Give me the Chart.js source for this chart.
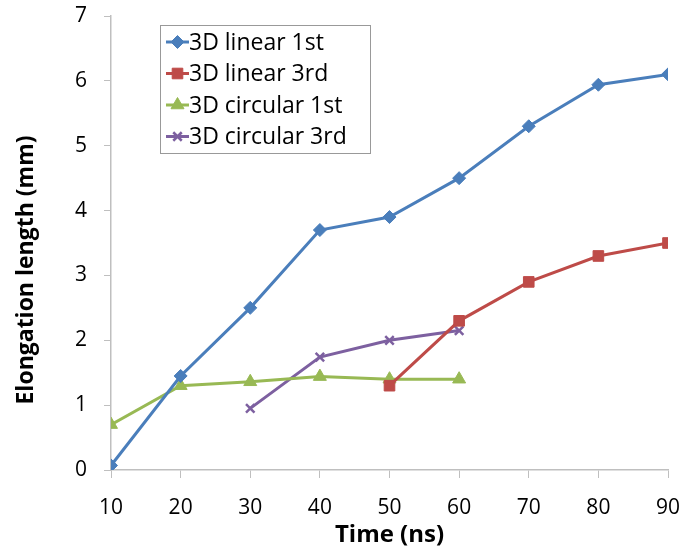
<!DOCTYPE html>
<html>
<head>
<meta charset="utf-8">
<script src="https://cdn.jsdelivr.net/npm/chart.js@4"></script>
<style>
  html, body { margin: 0; padding: 0; background: #fff; }
  #wrap { width: 684px; height: 550px; position: relative; }
</style>
</head>
<body>
<div id="wrap"><canvas id="chart" width="684" height="550"></canvas></div>
<script>
// data
const times = [10, 20, 30, 40, 50, 60, 70, 80, 90];
const linear1st = [0.07, 1.45, 2.5, 3.7, 3.9, 4.5, 5.3, 5.94, 6.1];
const linear3rd = [null, null, null, null, 1.3, 2.3, 2.9, 3.3, 3.5];
const circular1st = [0.7, 1.3, 1.36, 1.44, 1.4, 1.4, null, null, null];
const circular3rd = [null, null, 0.95, 1.74, 2.0, 2.15, null, null, null];
const seriesNames = ["3D linear 1st", "3D linear 3rd", "3D circular 1st", "3D circular 3rd"];
const yTicks = [0, 1, 2, 3, 4, 5, 6, 7];
const yTitle = "Elongation length (mm)";

const FONT = "'Open Sans', sans-serif";
const AXIS = "#bfbfbf";

function pts(vals) {
  return times.map((t, i) => ({ x: t, y: vals[i] })).filter(p => p.y !== null);
}

function mkSet(label, vals, color, style, radius) {
  return {
    label: label,
    data: pts(vals),
    borderColor: color,
    backgroundColor: color,
    borderWidth: 3,
    pointStyle: style,
    pointRadius: radius,
    pointBorderWidth: style === "crossRot" ? 2.5 : 1,
    pointBorderColor: color,
    pointBackgroundColor: color,
    tension: 0
  };
}

// legend drawn inside the plot area with a box around it, plus the y title
// (Excel puts the y title a bit below the plot centre, chart.js can't do that)
const boxLegend = {
  id: "boxLegend",
  afterDraw(chart) {
    const ctx = chart.ctx;
    ctx.save();
    ctx.fillStyle = "#000";
    ctx.font = "bold 23px " + FONT;
    ctx.textAlign = "center";
    ctx.textBaseline = "middle";
    ctx.translate(26, 270);
    ctx.rotate(-Math.PI / 2);
    ctx.fillText(yTitle, 0, 0);
    ctx.restore();

    const x0 = 160, y0 = 25, w = 210, h = 128;
    ctx.save();
    ctx.fillStyle = "#fff";
    ctx.fillRect(x0, y0, w, h);
    ctx.strokeStyle = "#999";
    ctx.lineWidth = 1;
    ctx.strokeRect(x0 + 0.5, y0 + 0.5, w, h);
    ctx.font = "23px " + FONT;
    ctx.textBaseline = "middle";
    chart.data.datasets.forEach((ds, i) => {
      const cy = y0 + 17 + i * 31.5;
      ctx.strokeStyle = ds.borderColor;
      ctx.lineWidth = 3;
      ctx.beginPath();
      ctx.moveTo(x0 + 6, cy);
      ctx.lineTo(x0 + 29, cy);
      ctx.stroke();
      ctx.fillStyle = ds.borderColor;
      ctx.strokeStyle = ds.borderColor;
      ctx.lineWidth = ds.pointBorderWidth;
      Chart.helpers.drawPoint(ctx, {
        pointStyle: ds.pointStyle,
        radius: ds.pointRadius,
        borderWidth: ds.pointBorderWidth,
        rotation: 0
      }, x0 + 17.5, cy);
      ctx.fillStyle = "#000";
      ctx.fillText(ds.label, x0 + 29, cy + 1);
    });
    ctx.restore();
  }
};

const ctx = document.getElementById("chart").getContext("2d");
new Chart(ctx, {
  type: "line",
  data: {
    datasets: [
      mkSet(seriesNames[0], linear1st, "#4A7EBB", "rectRot", 6.5),
      mkSet(seriesNames[1], linear3rd, "#BE4B48", "rect", 7.5),
      mkSet(seriesNames[2], circular1st, "#98B954", "triangle", 7.5),
      mkSet(seriesNames[3], circular3rd, "#7D60A0", "crossRot", 6)
    ]
  },
  options: {
    responsive: false,
    animation: false,
    layout: { padding: { left: 0, right: 16, top: 16, bottom: 0 } },
    plugins: {
      legend: { display: false },
      tooltip: { enabled: false }
    },
    scales: {
      x: {
        type: "linear",
        min: 10,
        max: 90,
        ticks: { stepSize: 10, color: "#000", font: { family: FONT, size: 21 }, padding: 17 },
        grid: { display: true, drawOnChartArea: false, drawTicks: true, tickLength: 8, color: AXIS },
        border: { color: AXIS, width: 1.5 },
        title: { display: true, text: "Time (ns)", color: "#000", font: { family: FONT, size: 24, weight: "bold" }, padding: { top: 0, bottom: 0 } },
        afterFit(scale) {
          scale.height = 80;
          scale.paddingLeft = 0;
          scale.paddingRight = 0;
        }
      },
      y: {
        min: 0,
        max: 7,
        afterBuildTicks(scale) { scale.ticks = yTicks.map(v => ({ value: v })); },
        ticks: { color: "#000", font: { family: FONT, size: 21 }, padding: 17 },
        grid: { display: true, drawOnChartArea: false, drawTicks: true, tickLength: 7, color: AXIS },
        border: { color: AXIS, width: 1.5 },
        afterFit(scale) {
          scale.width = 111;
          scale.paddingTop = 0;
          scale.paddingBottom = 0;
        }
      }
    }
  },
  plugins: [boxLegend]
});
</script>
</body>
</html>
